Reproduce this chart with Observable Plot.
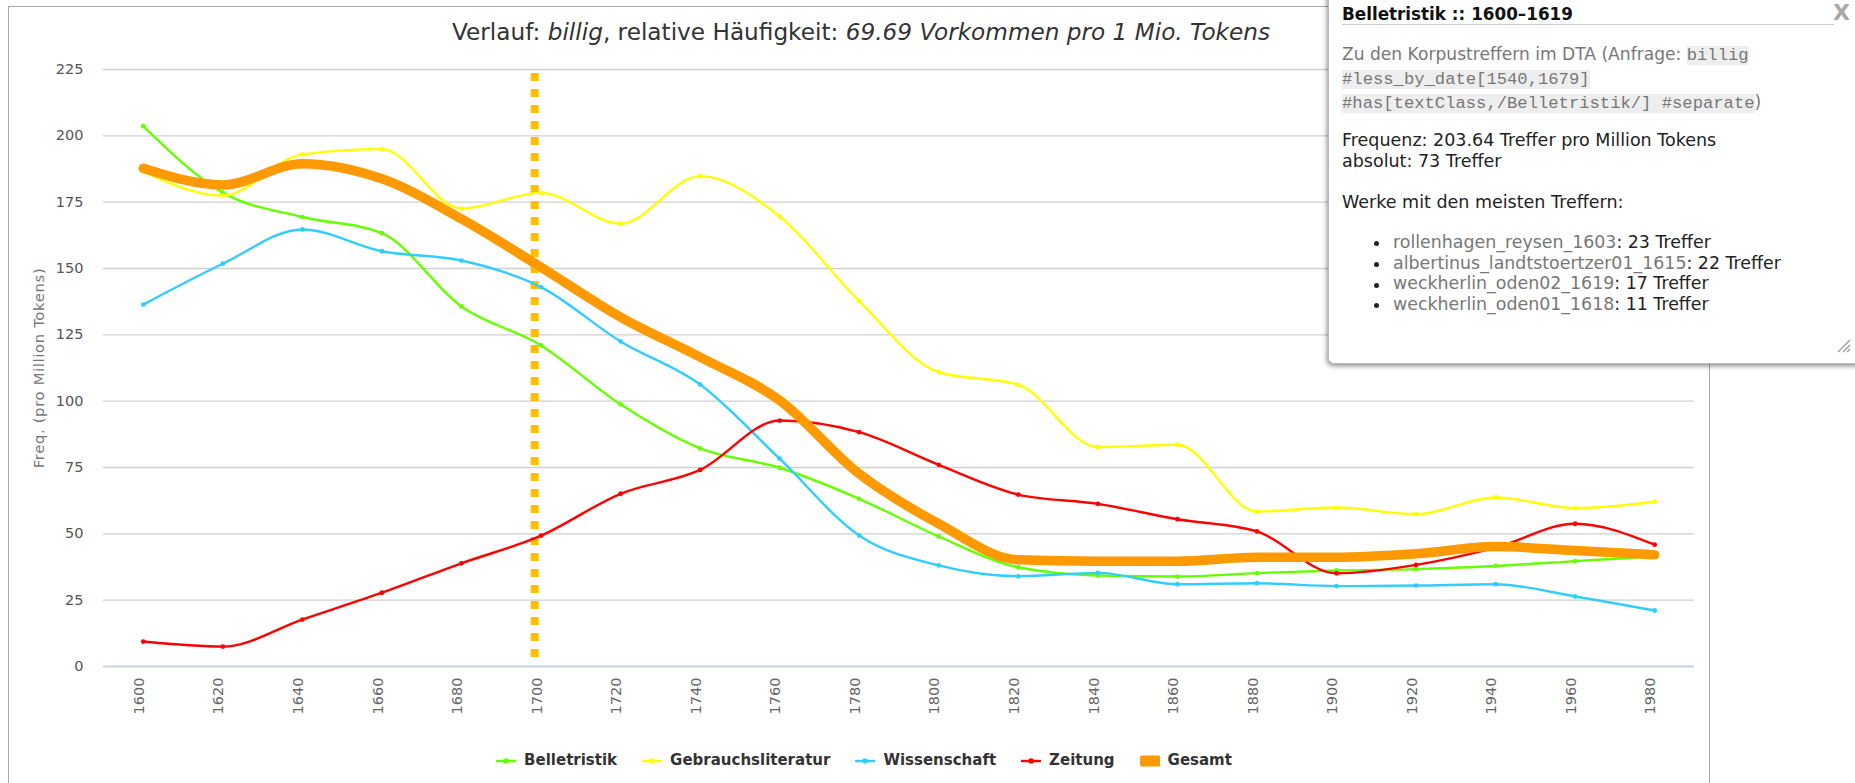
<!DOCTYPE html>
<html>
<head>
<meta charset="utf-8">
<script src="https://cdn.jsdelivr.net/npm/d3@7"></script>
<script src="https://cdn.jsdelivr.net/npm/@observablehq/plot@0.6"></script>
<style>
  html, body { margin: 0; padding: 0; background: #fff; overflow: hidden; }
  body { width: 1855px; height: 783px; position: relative; font-family: "DejaVu Sans", sans-serif; }
  #frame { position: absolute; left: 8px; top: 6px; width: 1702px; height: 820px; box-sizing: border-box; border: 1px solid #aaa; }
  #chart { position: absolute; left: 0; top: 0; }
  #chart g[aria-label="text"] text { letter-spacing: 0.65px; }
  #title { position: absolute; left: 861px; top: 19.6px; transform: translateX(-50%); white-space: nowrap;
           font-size: 23.2px; line-height: 23.2px; color: #333; }
  #legend { position: absolute; left: 864px; top: 753.4px; transform: translateX(-50%); display: flex; align-items: center;
            white-space: nowrap; font-weight: bold; font-size: 15px; line-height: 15px; color: #333; }
  #legend .item { display: flex; align-items: center; margin-right: 25px; }
  #legend .item:last-child { margin-right: 0; }
  #legend svg { margin-right: 8px; }
  #popup { position: absolute; left: 1328px; top: -12px; width: 560px; height: 376px; background: #fff;
           border: 1px solid #bbb; border-radius: 0 0 0 6px; box-shadow: -1px 2px 5px rgba(0,0,0,0.45); box-sizing: border-box; }
  #popup .abs { position: absolute; white-space: nowrap; }
  #popup .head { left: 13px; top: 15px; font-weight: bold; font-size: 16.8px; line-height: 21px; color: #111; }
  #popup .rule { left: 13px; top: 34.5px; width: 492px; height: 1px; background: #ccc; }
  #popup .para { left: 13px; top: 53.7px; font-size: 17.1px; line-height: 22px; color: #777; }
  #popup code { font-family: "Liberation Mono", monospace; font-size: 17.2px; background: #eee; color: #777; }
  #popup .freq { left: 13px; top: 141.0px; font-size: 17.5px; line-height: 21px; color: #222; }
  #popup .werke { left: 13px; top: 202.6px; font-size: 17.5px; line-height: 21px; color: #222; }
  #popup ul { left: 64px; top: 242.6px; margin: 0; padding: 0; list-style: none; font-size: 17.4px; line-height: 20.9px; color: #222; }
  #popup li { position: relative; }
  #popup li::before { content: ""; position: absolute; left: -19.5px; top: 9.1px; width: 5px; height: 5px; border-radius: 50%; background: #222; }
  #popup li .lnk { color: #777; }
  #closeX { position: absolute; left: 1833px; top: 2px; font-weight: bold; font-size: 22px; line-height: 22px; color: #a8a8a8; }
  #grip { position: absolute; left: 1834px; top: 336px; }
</style>
</head>
<body>
<div id="frame"></div>
<div id="chart"></div>
<div id="title"></div>
<div id="legend"></div>
<div id="popup"></div>
<div id="closeX">X</div>
<svg id="grip" width="18" height="18"></svg>
<script>
// ---------------- data ----------------
const years = [1600, 1620, 1640, 1660, 1680, 1700, 1720, 1740, 1760, 1780,
               1800, 1820, 1840, 1860, 1880, 1900, 1920, 1940, 1960, 1980];

const belletristik     = [203.64, 178.6, 169.4, 163.3, 135.7, 121.0, 98.8, 82.2, 74.9, 63.2,
                          49.0, 37.4, 34.3, 33.9, 35.2, 36.2, 36.7, 37.9, 39.7, 41.5];
const gebrauchslit     = [186.5, 177.5, 193.0, 195.0, 172.6, 178.5, 166.9, 184.8, 169.6, 137.7,
                          110.9, 106.2, 82.7, 83.6, 58.4, 59.9, 57.4, 63.7, 59.7, 62.1];
const wissenschaft     = [136.4, 151.8, 164.7, 156.5, 153.0, 143.0, 122.5, 106.3, 78.3, 49.4,
                          38.1, 34.0, 35.3, 31.0, 31.4, 30.3, 30.5, 31.0, 26.4, 21.1];
const zeitung          = [9.4, 7.5, 17.7, 27.8, 38.9, 49.3, 65.1, 74.1, 92.7, 88.3,
                          76.0, 64.8, 61.3, 55.5, 50.9, 35.1, 38.3, 44.8, 53.8, 45.9];
const gesamt           = [187.8, 181.5, 189.5, 183.8, 168.7, 150.5, 131.7, 116.6, 100.3, 72.6,
                          53.8, 40.2, 39.7, 39.7, 41.2, 41.2, 42.5, 45.2, 43.7, 42.1];

const seriesNames  = ["Belletristik", "Gebrauchsliteratur", "Wissenschaft", "Zeitung", "Gesamt"];
const seriesValues = [belletristik, gebrauchslit, wissenschaft, zeitung, gesamt];
const seriesColors = ["#66ff00", "#ffff00", "#33ccff", "#ff0000", "#ff9900"];

const yTicks = [0, 25, 50, 75, 100, 125, 150, 175, 200, 225];
const yTitle = "Freq. (pro Million Tokens)";
const highlightYear = 1698.4;   // selected period marker

// ---------------- table ----------------
const rows = [];
seriesNames.forEach((name, i) => {
  years.forEach((yr, j) => rows.push({series: name, year: yr, value: seriesValues[i][j]}));
});

// ---------------- chart ----------------
const seriesMarks = [];
seriesNames.forEach((name, i) => {
  const data = rows.filter(d => d.series === name);
  const isTotal = name === "Gesamt";
  seriesMarks.push(Plot.line(data, {
    x: "year", y: "value", stroke: seriesColors[i],
    strokeWidth: isTotal ? 9.5 : 2.4, curve: "monotone-x", strokeLinejoin: "round", strokeLinecap: "round"
  }));
  if (!isTotal) {
    seriesMarks.push(Plot.dot(data, {x: "year", y: "value", r: 2.4, fill: seriesColors[i], stroke: null}));
  }
});

const chart = Plot.plot({
  width: 1709,
  height: 783,
  marginLeft: 103,
  marginRight: 15,
  marginTop: 69,
  marginBottom: 117,
  style: {fontFamily: "DejaVu Sans", background: "transparent", overflow: "visible"},
  x: {domain: [years[0] - 10, years[years.length - 1] + 10]},
  y: {domain: [0, 225]},
  marks: [
    Plot.gridY(yTicks, {stroke: "#d0d0d0", strokeOpacity: 1, strokeWidth: 1.3}),
    Plot.ruleY([0], {stroke: "#c0d0e0", strokeWidth: 1.5}),
    Plot.axisY(yTicks, {tickSize: 0, tickPadding: 20, fontSize: 14.5, color: "#555", label: null}),
    Plot.axisX(years, {tickSize: 0, tickPadding: 11, tickRotate: -90, fontSize: 14.5, color: "#666",
                       dx: -4, label: null, tickFormat: d => String(d)}),
    Plot.text([yTitle], {frameAnchor: "left", rotate: -90, dx: -64, textAnchor: "middle",
                         fontSize: 14.8, fill: "#777"}),
    Plot.ruleX([highlightYear], {stroke: "#ffbf00", strokeWidth: 8, strokeDasharray: "8,8",
                                 insetTop: 4, insetBottom: 9}),
    ...seriesMarks
  ]
});
document.getElementById("chart").appendChild(chart);

// ---------------- title ----------------
document.getElementById("title").innerHTML =
  'Verlauf: <i>billig</i>, relative Häufigkeit: <i>69.69 Vorkommen pro 1 Mio. Tokens</i>';

// ---------------- legend ----------------
const legend = d3.select("#legend");
seriesNames.forEach((name, i) => {
  const item = legend.append("div").attr("class", "item");
  const s = item.append("svg").attr("width", 20).attr("height", 12);
  if (name === "Gesamt") {
    s.append("rect").attr("x", 0).attr("y", 0.5).attr("width", 20).attr("height", 11)
      .attr("rx", 1.5).attr("fill", seriesColors[i]);
  } else {
    s.append("line").attr("x1", 0).attr("x2", 20).attr("y1", 6).attr("y2", 6)
      .attr("stroke", seriesColors[i]).attr("stroke-width", 2.4);
    s.append("circle").attr("cx", 10).attr("cy", 6).attr("r", 2.8).attr("fill", seriesColors[i]);
  }
  item.append("span").text(name);
});

// ---------------- popup ----------------
const popupHeading = "Belletristik :: 1600–1619";
const popupWorks = [
  ["rollenhagen_reysen_1603", 23],
  ["albertinus_landtstoertzer01_1615", 22],
  ["weckherlin_oden02_1619", 17],
  ["weckherlin_oden01_1618", 11]
];
const popup = document.getElementById("popup");
popup.innerHTML = `
  <div class="abs head">${popupHeading}</div>
  <div class="abs rule"></div>
  <div class="abs para">Zu den Korpustreffern im DTA (Anfrage: <code>billig</code><br><code>#less_by_date[1540,1679]</code><br><code>#has[textClass,/Belletristik/] #separate</code>)</div>
  <div class="abs freq">Frequenz: 203.64 Treffer pro Million Tokens<br>absolut: 73 Treffer</div>
  <div class="abs werke">Werke mit den meisten Treffern:</div>
  <ul class="abs">${popupWorks.map(w => `<li><span class="lnk">${w[0]}</span>: ${w[1]} Treffer</li>`).join("")}</ul>
`;
const grip = d3.select("#grip");
[[4, 16, 16, 4], [9, 16, 16, 9], [13, 16, 16, 13]].forEach(l => {
  grip.append("line").attr("x1", l[0]).attr("y1", l[1]).attr("x2", l[2]).attr("y2", l[3])
    .attr("stroke", "#999").attr("stroke-width", 1.2);
});
</script>
</body>
</html>
